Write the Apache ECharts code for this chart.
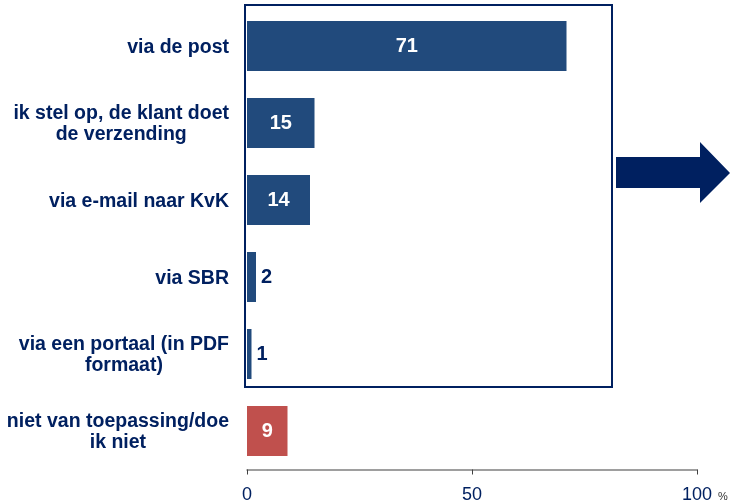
<!DOCTYPE html>
<html>
<head>
<meta charset="utf-8">
<script src="https://cdn.jsdelivr.net/npm/echarts@6/dist/echarts.min.js"></script>
<style>html,body{margin:0;padding:0;background:#fff}#c{width:731px;height:503px}</style>
</head>
<body>
<div id="c"></div>
<script>
var categories = [
  'via de post',
  'ik stel op, de klant doet\nde verzending',
  'via e-mail naar KvK',
  'via SBR',
  'via een portaal (in PDF\nformaat)',
  'niet van toepassing/doe\nik niet'
];
var values = [71, 15, 14, 2, 1, 9];
var xTicks = [0, 50, 100];

var navy = '#002060';
var barBlue = '#214A7C';
var barRed = '#C0504D';

var chart = echarts.init(document.getElementById('c'));
chart.setOption({
  animation: false,
  grid: { left: 247, right: 34, top: 7.5, bottom: 33.5, containLabel: false, outerBoundsMode: 'none' },
  xAxis: {
    type: 'value', min: 0, max: 100, interval: 50,
    splitLine: { show: false },
    axisLine: { show: true, lineStyle: { color: '#7f7f7f', width: 1.5 } },
    axisTick: { show: true, length: 5, lineStyle: { color: '#404040' } },
    axisLabel: {
      margin: 17, color: navy, fontSize: 18, fontFamily: 'Liberation Sans, Arial',
      formatter: function (v) { return xTicks.indexOf(v) >= 0 ? String(v) : ''; }
    },
    name: '%', nameLocation: 'end', nameGap: 21,
    nameTextStyle: { color: '#333', fontSize: 11, fontFamily: 'Liberation Sans, Arial', verticalAlign: 'top', padding: [22, 0, 0, 0] }
  },
  yAxis: {
    type: 'category', inverse: true, data: categories,
    axisLine: { show: false }, axisTick: { show: false },
    axisLabel: {
      margin: 18, align: 'right', padding: [3, 0, 0, 0],
      formatter: function (v) {
        return v.split('\n').map(function (s) { return '{c|' + s + '}'; }).join('\n');
      },
      rich: {
        c: { align: 'center', color: navy, fontSize: 19.5, fontWeight: 'bold', fontFamily: 'Liberation Sans, Arial', lineHeight: 21 }
      }
    }
  },
  series: [{
    type: 'bar',
    barCategoryGap: '35%',
    data: values.map(function (v, i) {
      var small = v < 5;
      return {
        value: v,
        itemStyle: { color: i === values.length - 1 ? barRed : barBlue },
        label: {
          show: true,
          position: small ? 'right' : 'inside',
          distance: 5,
          color: small ? navy : '#fff',
          fontSize: 20, fontWeight: 'bold', fontFamily: 'Liberation Sans, Arial'
        }
      };
    })
  }],
  graphic: [
    {
      type: 'rect', z: 10,
      shape: { x: 245, y: 5, width: 367, height: 382 },
      style: { fill: 'none', stroke: navy, lineWidth: 2 }
    },
    {
      type: 'polygon', z: 10,
      shape: { points: [[616, 157], [700, 157], [700, 142], [730, 173], [700, 203], [700, 188], [616, 188]] },
      style: { fill: navy }
    }
  ]
});
</script>
</body>
</html>
